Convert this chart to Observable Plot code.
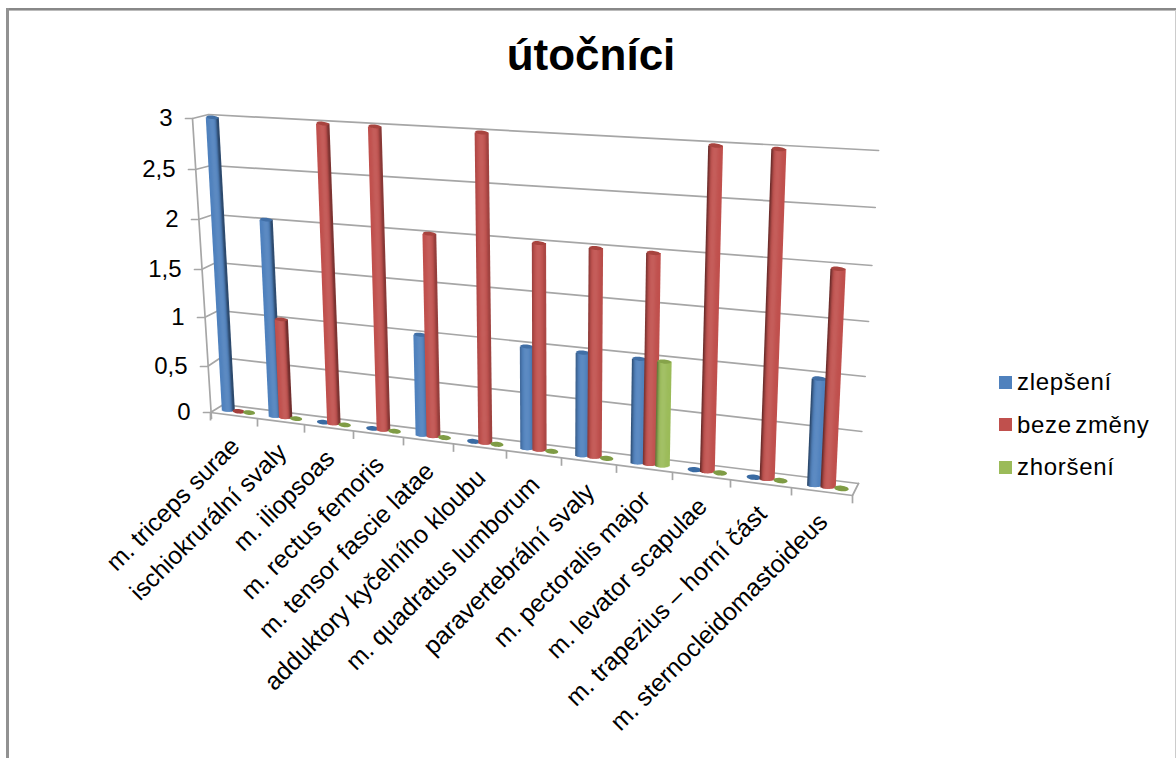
<!DOCTYPE html>
<html lang="cs">
<head>
<meta charset="utf-8">
<title>útočníci</title>
<script src="https://cdn.jsdelivr.net/npm/d3@7"></script>
<script src="https://cdn.jsdelivr.net/npm/@observablehq/plot@0.6"></script>
<style>
  html, body { margin: 0; background: #fff; }
  #page { position: relative; width: 1176px; height: 758px; overflow: hidden; font-family: "Liberation Sans", Arial, sans-serif; color: #000; }
  #page svg { position: absolute; left: 0; top: 0; }
  .edge { position: absolute; }
  #chart-title { position: absolute; left: 391px; width: 400px; top: 29px; text-align: center; font-size: 44px; font-weight: bold; line-height: 52px; margin: 0; }
  .key { position: absolute; left: 999px; height: 26px; display: flex; align-items: center; font-size: 24px; letter-spacing: 0.7px; word-spacing: -4px; white-space: nowrap; }
  .key i { display: block; width: 13px; height: 13px; margin-right: 5px; }
</style>
</head>
<body>
<div id="page">
  <h1 id="chart-title">útočníci</h1>
  <div class="edge" style="left:6px;top:8px;width:1170px;height:3px;background:linear-gradient(#888 66%,#bbb 66%)"></div>
  <div class="edge" style="left:6px;top:8px;width:3px;height:750px;background:#929292"></div>
  <div class="edge" style="left:1175px;top:10px;width:1px;height:748px;background:#ccc"></div>
</div>
<script>
// Muscle groups and the number of players in each outcome group
const categories = [
  "m. triceps surae", "ischiokrurální svaly", "m. iliopsoas", "m. rectus femoris",
  "m. tensor fascie latae", "adduktory kyčelního kloubu", "m. quadratus lumborum",
  "paravertebrální svaly", "m. pectoralis major", "m. levator scapulae",
  "m. trapezius – horní část", "m. sternocleidomastoideus"
];
const zlepseni   = [3, 2, 0, 0, 1, 0, 1, 1, 1, 0, 0, 1];
const bezeZmeny  = [0, 1, 3, 3, 2, 3, 2, 2, 2, 3, 3, 2];
const zhorseni   = [0, 0, 0, 0, 0, 0, 0, 0, 1, 0, 0, 0];
const seriesNames = ["zlepšení", "beze změny", "zhoršení"];
const valueTicks = [0, 0.5, 1, 1.5, 2, 2.5, 3];

const seriesValues = [zlepseni, bezeZmeny, zhorseni];
const seriesColors = ["#4f81bd", "#c0504d", "#9bbb59"];
const capColors = ["#416fa6", "#a8443f", "#86a34a"];
const discColors = ["#3a6ba3", "#a33f3c", "#7f9c45"];

// Perspective box: category boundaries and value levels along the front edges
const categoryStops = d3.range(13);
const categoryPixels = [210, 257, 304, 353, 403, 453, 506, 561, 616, 672, 730, 791, 852];
const valuePixels = [412, 366, 317, 269, 219, 169, 118];
const backLeftPixels = [404, 357, 310, 262, 214, 165, 114];
const backRightPixels = [483, 431, 376, 321, 265, 207, 150];

// Plot's scales stay linear; these convert the perspective box into scale units
const toCategory = d3.scaleLinear().domain([210, 852]).range([0, 12]);
const toValue = d3.scaleLinear().domain([412, 118]).range([0, 3]);
const alongFloor = d3.scaleLinear().domain(categoryStops).range(categoryPixels);
const pt = (px, py) => ({x: toCategory(px), y: toValue(py)});

const level = (v) => valueTicks.indexOf(v);
const frontLeft = (v) => pt(210 - 6 * v, valuePixels[level(v)]);
const backLeft = (v) => pt(223 - 5 * v, backLeftPixels[level(v)]);
const backRight = (v) => pt(858 + 6.7 * v, backRightPixels[level(v)]);
const frontEdgeY = (px) => 412 + 0.129 * (px - 210);

// Projects a bar of a series in a category to its base and top in the box
function barGeometry(cat, si, v) {
  const bx = alongFloor(cat + 0.6 + 0.22 * (si - 1));
  const by = 411 + 0.128 * (bx - 240);
  const across = bx - 230;
  const unit = 97.3 + 0.0195 * across + (v - 2) * (0.3 + 0.0035 * across);
  const lean = -0.0546 + 0.000168 * across;
  return {
    bx, by,
    tx: bx + lean * unit * v,
    ty: by - unit * v,
    width: 12 + across * 0.0042
  };
}

// Cylinder side is built from lengthwise strands shaded across the width
const strandOffsets = d3.range(13).map((i) => -0.92 + i * 0.92 / 6);
function strandColor(si, s, cat) {
  const right = 0.45 * Math.max(0, Math.min(1, 1.1 - cat / 7));
  const left = 0.45 * Math.max(0, Math.min(1, (cat - 4) / 5));
  const dark = right * Math.exp(-(((s - 1) / 0.34) ** 2)) + left * Math.exp(-(((s + 1) / 0.34) ** 2));
  const light = 0.08 * Math.exp(-((s / 0.5) ** 2));
  return d3.interpolateRgb(d3.interpolateRgb(seriesColors[si], "#fff")(light), "#000")(dark);
}

// Flat ellipse used for the bar tops and for the discs of empty bars
const ellipse = (ratio) => ({
  draw(ctx, size) {
    const rx = Math.sqrt(size / Math.PI), ry = rx * ratio, k = 0.5523;
    ctx.moveTo(-rx, 0);
    ctx.bezierCurveTo(-rx, -k * ry, -k * rx, -ry, 0, -ry);
    ctx.bezierCurveTo(k * rx, -ry, rx, -k * ry, rx, 0);
    ctx.bezierCurveTo(rx, k * ry, k * rx, ry, 0, ry);
    ctx.bezierCurveTo(-k * rx, ry, -rx, k * ry, -rx, 0);
    ctx.closePath();
  }
});

function seriesMarks(si) {
  const bars = categories.map((name, cat) => ({cat, v: seriesValues[si][cat], ...barGeometry(cat, si, seriesValues[si][cat])}));
  const standing = bars.filter((d) => d.v > 0);
  const empty = bars.filter((d) => d.v === 0);
  const strands = standing.flatMap((d) => strandOffsets.map((s) => {
    const off = s * d.width / 2;
    const round = 0.3 * (d.width / 2) * Math.sqrt(Math.max(0, 1 - s * s));
    return {
      x1: toCategory(d.bx + off), y1: toValue(d.by + round),
      x2: toCategory(d.tx + off), y2: toValue(d.ty),
      color: strandColor(si, s, d.cat)
    };
  }));
  const discOptions = (symbol, fill) => ({
    x: (d) => toCategory(d.tx), y: (d) => toValue(d.ty),
    r: {value: (d) => d.width / 2, scale: null},
    symbol, fill, rotate: 6
  });
  return [
    Plot.link(strands, {x1: "x1", y1: "y1", x2: "x2", y2: "y2", stroke: "color", strokeWidth: 2}),
    Plot.dot(standing, discOptions(ellipse(0.3), capColors[si])),
    Plot.dot(empty, discOptions(ellipse(0.38), discColors[si]))
  ];
}

const gridRows = valueTicks.flatMap((v) => [
  {v, ...pt(210 - 6 * v - 7, valuePixels[level(v)])},
  {v, ...frontLeft(v)}, {v, ...backLeft(v)}, {v, ...backRight(v)}
]);
const floorOutline = [frontLeft(0), pt(852, 495), backRight(0)];
const leftEdge = [pt(192, 118), pt(211, 418)];
const gridColor = "#a6a6a6";

const chart = Plot.plot({
  width: 1176,
  height: 758,
  margin: 0,
  style: {background: "transparent", overflow: "visible"},
  x: {domain: [0, 12], range: [210, 852], axis: null},
  y: {domain: [0, 3], range: [412, 118], axis: null},
  marks: [
    Plot.line(gridRows, {x: "x", y: "y", z: "v", stroke: gridColor, strokeWidth: 1.7}),
    Plot.line(floorOutline, {x: "x", y: "y", stroke: gridColor, strokeWidth: 1.7}),
    Plot.line(leftEdge, {x: "x", y: "y", stroke: gridColor, strokeWidth: 1.7}),
    Plot.link(categoryStops, {
      x1: (c) => toCategory(categoryPixels[c]), x2: (c) => toCategory(categoryPixels[c]),
      y1: (c) => toValue(frontEdgeY(categoryPixels[c])),
      y2: (c) => toValue(frontEdgeY(categoryPixels[c]) + 8),
      stroke: gridColor, strokeWidth: 1.7
    }),
    ...seriesMarks(0), ...seriesMarks(1), ...seriesMarks(2),
    Plot.text(valueTicks, {
      x: (v) => toCategory(210 - 6 * v - 20),
      y: (v) => toValue(valuePixels[level(v)]),
      text: (v) => String(v).replace(".", ","),
      textAnchor: "end", fontSize: 24, fill: "#000", fontFamily: "Liberation Sans"
    }),
    Plot.text(categories, {
      x: (d, i) => toCategory(alongFloor(i + 0.5) + 1.5),
      y: (d, i) => toValue(frontEdgeY(alongFloor(i + 0.5)) + 26.5),
      text: (d) => d,
      rotate: -45, textAnchor: "end", fontSize: 24.8, fill: "#000", fontFamily: "Liberation Sans"
    })
  ]
});
const page = document.getElementById("page");
page.prepend(chart);

// Legend keys sit to the right of the plot
seriesNames.forEach((name, i) => {
  const key = document.createElement("div");
  key.className = "key";
  key.style.top = (369 + i * 42.5) + "px";
  const swatch = document.createElement("i");
  swatch.style.background = seriesColors[i];
  key.append(swatch, name);
  page.append(key);
});
</script>
</body>
</html>
